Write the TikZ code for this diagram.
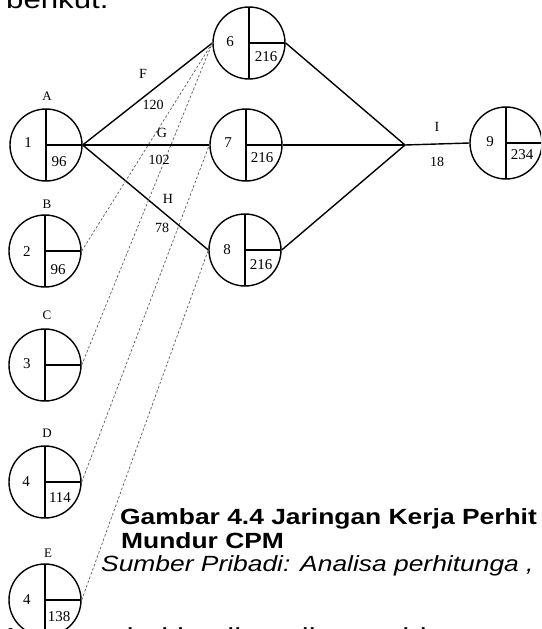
\documentclass[tikz,border=0pt]{standalone}
\usepackage{fontspec}
\setmainfont{Liberation Serif}
\newfontfamily\arial{Liberation Sans}
\usetikzlibrary{calc}
\begin{document}
\begin{tikzpicture}[x=1pt,y=-1pt,
  ev/.style={circle,draw,fill=white,line width=1.4pt,minimum size=72pt,inner sep=0pt,
    path picture={\draw[line width=1.4pt] (path picture bounding box.north) -- (path picture bounding box.south);
      \draw[line width=1.4pt] (path picture bounding box.center) -- (path picture bounding box.east);}},
  num/.style={font=\fontsize{15}{15}\selectfont,inner sep=0pt},
  lab/.style={font=\fontsize{13}{13}\selectfont,inner sep=0pt},
  elab/.style={font=\fontsize{14}{14}\selectfont,inner sep=0pt},
  act/.style={line width=1.4pt},
  dum/.style={line width=0.7pt,dash pattern=on 2.5pt off 2pt,draw=black!65},
  body/.style={font=\arial\fontsize{26}{26}\selectfont,inner sep=0pt,anchor=base west},
  capb/.style={font=\arial\fontsize{22}{22}\selectfont\bfseries,inner sep=0pt,anchor=base west},
  capi/.style={font=\arial\fontsize{22}{22}\selectfont\itshape,inner sep=0pt,anchor=base west},
]
\useasboundingbox (0,0) rectangle (541,629);
\clip (0,0) rectangle (541,629);

% surrounding text
\node[body] (t0) at (6,9) {\scalebox{1.2}[1]{berikut.}};
\node[capb] (t1) at (120,524) {\scalebox{1.2}[1]{Gambar 4.4 Jaringan Kerja Perhit}};
\node[capb] (t2) at (121,548) {\scalebox{1.2}[1]{Mundur CPM}};
\node[capi] (t3) at (101,571) {\scalebox{1.2}[1]{Sumber Pribadi: Analisa perhitunga ,}};
\node[body] (t4) at (0,646) {\scalebox{1.2}[1]{Adapun dari hasil analisa perhitungan}};

% events
\node[ev] (n1) at (46,145) {};
\node[ev] (n2) at (45,251) {};
\node[ev] (n3) at (45,365) {};
\node[ev] (n4) at (45,482) {};
\node[ev] (n5) at (45,600) {};
\node[ev] (n6) at (249,43) {};
\node[ev] (n7) at (246,145) {};
\node[ev] (n8) at (245,250) {};
\node[ev] (n9) at (506,143) {};

% labels above start events
\node[lab] (lA) at (47,96) {A};
\node[lab] (lB) at (47,204) {B};
\node[lab] (lC) at (47,315) {C};
\node[lab] (lD) at (47,433) {D};
\node[lab] (lE) at (48,553) {E};

% numbers in events
\node[num] (k1) at (28,143) {1};
\node[num] (v1) at (59,162) {96};
\node[num] (k2) at (27,252) {2};
\node[num] (v2) at (58,270) {96};
\node[num] (k3) at (27,364) {3};
\node[num] (k4) at (26,482) {4};
\node[num] (v4) at (60,498) {114};
\node[num] (k5) at (27,600) {4};
\node[num] (v5) at (59,617) {138};
\node[num] (k6) at (230,42) {6};
\node[num] (v6) at (266,57) {216};
\node[num] (k7) at (228,143) {7};
\node[num] (v7) at (262,158) {216};
\node[num] (k8) at (227,250) {8};
\node[num] (v8) at (261,265) {216};
\node[num] (k9) at (490,142) {9};
\node[num] (v9) at (522,155) {234};

% activities
\coordinate (j) at (405,145);
\draw[act] (n1.east) -- (n6.west);
\draw[act] (n1.east) -- (n7.west);
\draw[act] (n1.east) -- (n8.west);
\draw[act] (n6.east) -- (j);
\draw[act] (n7.east) -- (j);
\draw[act] (n8.east) -- (j);
\draw[act] (j) -- (n9.west);

% dummies
\draw[dum] (n2.east) -- (n6.west);
\draw[dum] (n3.east) -- (n6.west);
\draw[dum] (n4.east) -- (n7.west);
\draw[dum] (n5.east) -- (n8.west);

% activity labels
\node[elab] (aF) at (143,74) {F};
\node[elab] (dF) at (153,105) {120};
\node[elab] (aG) at (162,133) {G};
\node[elab] (dG) at (159,160) {102};
\node[elab] (aH) at (168,199) {H};
\node[elab] (dH) at (162,228) {78};
\node[elab] (aI) at (437,127) {I};
\node[elab] (dI) at (437,162) {18};
\end{tikzpicture}
\end{document}
